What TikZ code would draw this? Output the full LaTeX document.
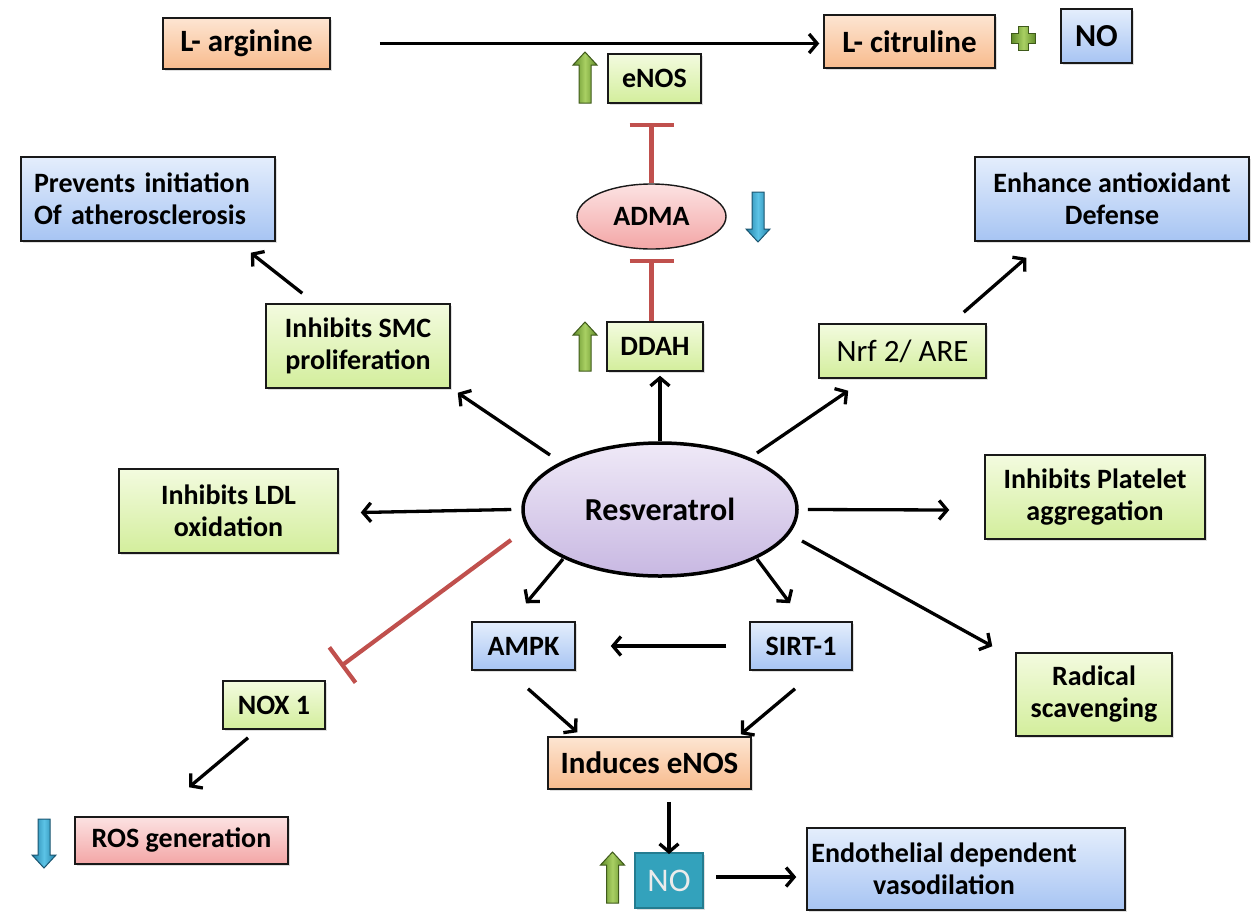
\documentclass[tikz,border=0pt]{standalone}
\usepackage{fontspec}
\setmainfont{Carlito}
\usetikzlibrary{arrows.meta,shapes.geometric,shadows,calc}
\definecolor{gTop}{HTML}{F3FBDF}
\definecolor{gBot}{HTML}{D3EE9C}
\definecolor{bTop}{HTML}{E4EEFC}
\definecolor{bBot}{HTML}{A7C4F3}
\definecolor{oTop}{HTML}{FDE5D2}
\definecolor{oBot}{HTML}{F8BB8D}
\definecolor{pTop}{HTML}{FCE2E2}
\definecolor{pBot}{HTML}{F3A6A6}
\definecolor{vTop}{HTML}{EFE9F7}
\definecolor{vBot}{HTML}{C8B8E2}
\definecolor{teal}{HTML}{33A2BC}
\definecolor{tealdark}{HTML}{247C90}
\definecolor{inhred}{HTML}{C0504D}
\definecolor{agA}{HTML}{5F8A28}
\definecolor{agB}{HTML}{A9D063}
\definecolor{agD}{HTML}{3F5A1B}
\definecolor{abA}{HTML}{1F7FA6}
\definecolor{abB}{HTML}{5CC3E6}
\definecolor{abD}{HTML}{1B5570}
\begin{document}
\begin{tikzpicture}[x=1pt,y=-1pt,
  box/.style={rectangle, draw=black!90, line width=1.5pt, inner sep=0pt, align=center,
    font=\bfseries\fontsize{28}{32}\selectfont,
    drop shadow={opacity=0.25,shadow xshift=2pt,shadow yshift=-2pt}},
  grn/.style={box, top color=gTop, bottom color=gBot},
  blu/.style={box, top color=bTop, bottom color=bBot},
  org/.style={box, top color=oTop, bottom color=oBot},
  pnk/.style={box, top color=pTop, bottom color=pBot},
  big/.style={font=\bfseries\fontsize{31}{36}\selectfont},
  arr/.style={draw=black, line width=3.3pt, -{Straight Barb[length=8pt,width=19pt]}},
  inh/.style={draw=inhred, line width=4.2pt, -{Bar[width=44pt,line width=4.2pt]}},
  uparrow/.style={draw=agD, line width=1pt, left color=agA, right color=agA, middle color=agB},
  dnarrow/.style={draw=abD, line width=1pt, left color=abA, right color=abA, middle color=abB},
]
\useasboundingbox (0,0) rectangle (1255,919);

% ---------- nodes ----------
\node[org, big, minimum width=167pt, minimum height=51pt] (larg) at (246.5,43.5) {L- arginine};
\node[org, big, minimum width=171pt, minimum height=53pt] (lcit) at (909.5,41.5) {L- citruline};
\node[blu, font=\bfseries\fontsize{32}{36}\selectfont, minimum width=71pt, minimum height=54pt] (notop) at (1096.5,36) {NO};
\node[grn, minimum width=93pt, minimum height=49pt] (enos) at (654.5,78.5) {eNOS};
\node[ellipse, draw=black!90, line width=1.4pt, top color=pTop, bottom color=pBot,
      minimum width=149pt, minimum height=65pt, inner sep=0pt,
      font=\bfseries\fontsize{28}{32}\selectfont] (adma) at (651.5,216.5) {ADMA};
\node[grn, minimum width=96pt, minimum height=49pt] (ddah) at (655,346.5) {DDAH};
\node[blu, align=left, text width=228pt, minimum width=254pt, minimum height=84pt] (prev) at (148,199)
  {Prevents initiation\\Of atherosclerosis};
\node[blu, minimum width=274pt, minimum height=84pt] (enh) at (1112,199) {Enhance antioxidant\\Defense};
\node[grn, minimum width=184pt, minimum height=84pt] (smc) at (358,346) {Inhibits SMC\\proliferation};
\node[grn, font=\fontsize{31}{36}\selectfont, minimum width=167pt, minimum height=54pt] (nrf) at (902.5,351) {Nrf 2/ ARE};
\node[grn, minimum width=219pt, minimum height=84pt] (ldl) at (228.5,511) {Inhibits LDL\\oxidation};
\node[ellipse, draw=black, line width=3.5pt, top color=vTop, bottom color=vBot,
      minimum width=274pt, minimum height=133pt, inner sep=0pt,
      font=\bfseries\fontsize{32}{36}\selectfont] (res) at (660,509.5) {Resveratrol};
\node[grn, minimum width=220pt, minimum height=84pt] (plt) at (1095,497) {Inhibits Platelet\\aggregation};
\node[grn, minimum width=156pt, minimum height=83pt] (rad) at (1094,694.5) {Radical\\scavenging};
\node[grn, minimum width=102pt, minimum height=48pt] (nox) at (274,705) {NOX 1};
\node[pnk, minimum width=213pt, minimum height=47pt] (ros) at (181.5,840.5) {ROS generation};
\node[blu, minimum width=103pt, minimum height=48pt] (ampk) at (523.5,646) {AMPK};
\node[blu, minimum width=102pt, minimum height=48pt] (sirt) at (801,646) {SIRT-1};
\node[org, big, minimum width=203pt, minimum height=52pt] (ind) at (649.5,763) {Induces eNOS};
\node[box, fill=teal, draw=tealdark, line width=2pt, text=black!8,
      font=\fontsize{33}{36}\selectfont, minimum width=68pt, minimum height=55pt] (nob) at (669,880.5) {NO};
\node[blu, minimum width=318pt, minimum height=82pt] (endo) at (966,869)
  {Endothelial dependent\hspace*{44pt}\\vasodilation\hspace*{44pt}};

% ---------- block arrows and plus ----------
\begin{scope}[shift={(585,52)}]
  \path[uparrow] (-6,51) -- (-6,13) -- (-12,13) -- (0,0) -- (12,13) -- (6,13) -- (6,51) -- cycle;
\end{scope}
\begin{scope}[shift={(585,322)}]
  \path[uparrow] (-6,49) -- (-6,13) -- (-12,13) -- (0,0) -- (12,13) -- (6,13) -- (6,49) -- cycle;
\end{scope}
\begin{scope}[shift={(612.5,852)}]
  \path[uparrow] (-6,51) -- (-6,13) -- (-12,13) -- (0,0) -- (12,13) -- (6,13) -- (6,51) -- cycle;
\end{scope}
\begin{scope}[shift={(758,242)}]
  \path[dnarrow] (-6,-50) -- (-6,-13) -- (-12,-13) -- (0,0) -- (12,-13) -- (6,-13) -- (6,-50) -- cycle;
\end{scope}
\begin{scope}[shift={(44,868)}]
  \path[dnarrow] (-6,-49) -- (-6,-13) -- (-12,-13) -- (0,0) -- (12,-13) -- (6,-13) -- (6,-49) -- cycle;
\end{scope}
\begin{scope}[shift={(1023.5,38.5)}]
  \path[uparrow] (-5,-12) -- (5,-12) -- (5,-5) -- (12,-5) -- (12,5) -- (5,5) -- (5,12)
     -- (-5,12) -- (-5,5) -- (-12,5) -- (-12,-5) -- (-5,-5) -- cycle;
\end{scope}

% ---------- connectors ----------
\draw[arr, shorten <=49pt, shorten >=4pt] (larg.east) -- (larg.east -| lcit.west);
\draw[inh, shorten >=19pt] (adma.north) -- (adma.north |- enos.south);
\draw[inh, shorten >=9pt] (adma.south |- ddah.north) -- (adma.south);
\draw[arr, shorten >=4pt] (res.north) -- (res.north |- ddah.south);
\draw[arr] ([xshift=-110pt,yshift=54.5pt]res.center) -- ([xshift=7pt,yshift=-4pt]smc.south east);
\draw[arr] ([xshift=37pt,yshift=10pt]smc.north west) -- ([xshift=-25pt,yshift=-11pt]prev.south east);
\draw[arr] ([xshift=97pt,yshift=56.5pt]res.center) -- ([xshift=30pt,yshift=-12pt]nrf.south west);
\draw[arr] ([xshift=-23pt,yshift=11pt]nrf.north east) -- ([xshift=52pt,yshift=-16pt]enh.south west);
\draw[arr] ([xshift=-10pt]res.west) -- ([xshift=22pt,yshift=-1.5pt]ldl.east);
\draw[arr] ([xshift=9pt]res.east) -- ([xshift=-35pt,yshift=-13pt]plt.west);
\draw[arr] ([xshift=142pt,yshift=-31.5pt]res.center) -- ([xshift=-23pt,yshift=6pt]rad.north west);
\draw[inh] ([xshift=-149pt,yshift=-30.5pt]res.center) -- ([xshift=15pt,yshift=14pt]nox.north east);
\draw[arr] ([xshift=-26pt,yshift=-8pt]nox.south) -- ([xshift=7.5pt,yshift=29pt]ros.north);
\draw[arr] ([xshift=-97pt,yshift=-49.5pt]res.center) -- ([xshift=2.5pt,yshift=18pt]ampk.north);
\draw[arr] ([xshift=97pt,yshift=-49.5pt]res.center) -- ([xshift=-11pt,yshift=18pt]sirt.north);
\draw[arr] ([xshift=-23pt]sirt.west) -- ([xshift=35pt]ampk.east);
\draw[arr] ([xshift=4.5pt,yshift=-18pt]ampk.south) -- ([xshift=30pt,yshift=4pt]ind.north west);
\draw[arr] ([xshift=-6pt,yshift=-18pt]sirt.south) -- ([xshift=-11pt,yshift=2pt]ind.north east);
\draw[arr, shorten <=12pt, shorten >=-2pt] (nob.north |- ind.south) -- (nob.north);
\draw[arr] ([xshift=12pt,yshift=3.5pt]nob.east) -- ([xshift=-10pt,yshift=-8pt]endo.west);
\end{tikzpicture}
\end{document}
